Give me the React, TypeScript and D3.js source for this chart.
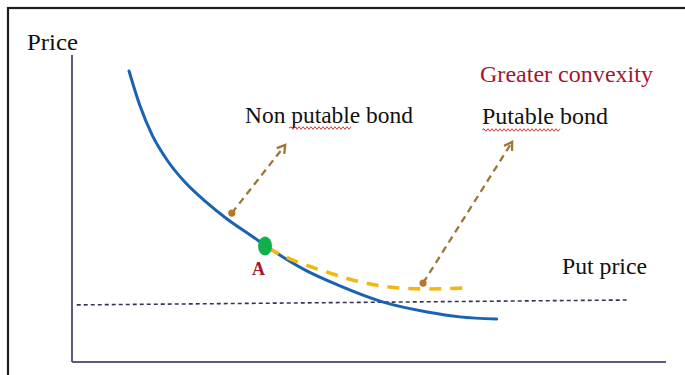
import React from "react";
import * as d3 from "d3";

// Non-putable bond price curve (yield-index, price-index)
const bondX = [9.6, 11.4, 13.5, 16.0, 19.0, 22.4, 26.1, 30.0, 34.2, 39.2, 45.1, 52.4, 59.8, 65.3, 71.5];
const bondY = [94.8, 83.7, 73.9, 65.8, 58.6, 52.4, 46.6, 41.4, 35.8, 30.0, 24.8, 19.5, 16.3, 14.7, 14.0];

// Putable bond price curve
const putableX = [33.0, 37.2, 42.9, 48.5, 55.2, 59.8, 66.2];
const putableY = [37.1, 33.2, 29.3, 26.1, 24.1, 23.8, 24.1];

// Put price level line
const putPriceX = [0.8, 93.9];
const putPriceY = [18.6, 20.2];

// Point A
const pointA = { x: 32.5, y: 37.8 };

// Annotation arrows: [fromX, fromY, toX, toY]
const arrowNames = ["Non putable bond", "Putable bond"];
const arrowFrom = [[26.9, 48.5], [59.1, 25.7]];
const arrowTo = [[35.9, 70.7], [74.1, 71.7]];

const SERIF = "'Liberation Serif', 'Times New Roman', serif";

function squiggle(x0: number, x1: number, y: number) {
  let d = `M${x0},${y}`;
  let up = true;
  for (let x = x0 + 2; x <= x1; x += 2) {
    d += ` L${x},${y + (up ? -1.3 : 1.3)}`;
    up = !up;
  }
  return d;
}

export default function App() {
  const xs = d3.scaleLinear().domain([0, 100]).range([72, 666]);
  const ys = d3.scaleLinear().domain([0, 100]).range([362, 55]);

  const line = d3
    .line<[number, number]>()
    .x((d) => xs(d[0]))
    .y((d) => ys(d[1]))
    .curve(d3.curveMonotoneX);

  const bondPts = bondX.map((x, i) => [x, bondY[i]] as [number, number]);
  const putPts = putableX.map((x, i) => [x, putableY[i]] as [number, number]);
  const putLine = d3
    .line<[number, number]>()
    .x((d) => xs(d[0]))
    .y((d) => ys(d[1]));
  const putPricePts = putPriceX.map((x, i) => [x, putPriceY[i]] as [number, number]);

  const [x0, x1] = xs.range();
  const [yb, yt] = ys.range();

  const arrowColor = "#9a7637";

  return (
    <svg
      width={685}
      height={375}
      style={{ position: "absolute", left: 0, top: 0, background: "#ffffff", display: "block" }}
    >
      {/* outer frame */}
      <rect x={8} y={8} width={700} height={420} fill="none" stroke="#1e1e1e" strokeWidth={2.2} />

      {/* axes */}
      <line x1={x0} y1={yb} x2={x0} y2={yt} stroke="#5b5a80" strokeWidth={2} />
      <line x1={x0} y1={yb} x2={x1} y2={yb} stroke="#5b5a80" strokeWidth={2} />

      {/* put price line */}
      <path d={putLine(putPricePts) || ""} fill="none" stroke="#34345a" strokeWidth={1.6} strokeDasharray="4 3" />

      {/* non-putable bond curve */}
      <path d={line(bondPts) || ""} fill="none" stroke="#1a63b3" strokeWidth={3} strokeLinecap="round" />

      {/* putable bond curve */}
      <path d={line(putPts) || ""} fill="none" stroke="#f4b712" strokeWidth={3.6} strokeDasharray="12 9" />

      {/* arrows */}
      {arrowNames.map((name, i) => {
        const fx = xs(arrowFrom[i][0]);
        const fy = ys(arrowFrom[i][1]);
        const tx = xs(arrowTo[i][0]);
        const ty = ys(arrowTo[i][1]);
        const ang = Math.atan2(ty - fy, tx - fx);
        const L = 9;
        const a1 = ang + Math.PI - 0.55;
        const a2 = ang + Math.PI + 0.55;
        const head = `M${tx + L * Math.cos(a1)},${ty + L * Math.sin(a1)} L${tx},${ty} L${tx + L * Math.cos(a2)},${ty + L * Math.sin(a2)}`;
        return (
          <g key={name}>
            <line x1={fx} y1={fy} x2={tx} y2={ty} stroke={arrowColor} strokeWidth={2.3} strokeDasharray="7 5" />
            <path d={head} fill="none" stroke={arrowColor} strokeWidth={2.3} />
            <circle cx={fx} cy={fy} r={3.6} fill="#b97726" />
          </g>
        );
      })}

      {/* point A */}
      <ellipse cx={xs(pointA.x)} cy={ys(pointA.y)} rx={7} ry={9.5} fill="#12b04a" />
      <text x={xs(pointA.x) - 13} y={ys(pointA.y) + 29} fontFamily={SERIF} fontWeight="bold" fontSize={18} fill="#a3182c" textLength={13} lengthAdjust="spacingAndGlyphs">
        A
      </text>

      {/* labels */}
      <text x={27} y={50} fontFamily={SERIF} fontSize={23} fill="#111" textLength={51} lengthAdjust="spacingAndGlyphs">
        Price
      </text>
      <text x={245} y={123} fontFamily={SERIF} fontSize={23} fill="#111" textLength={168} lengthAdjust="spacingAndGlyphs">
        Non putable bond
      </text>
      <path d={squiggle(289, 352, 128)} fill="none" stroke="#d03a3a" strokeWidth={1} />
      <text x={480} y={82} fontFamily={SERIF} fontSize={23} fill="#a3162b" textLength={173} lengthAdjust="spacingAndGlyphs">
        Greater convexity
      </text>
      <text x={482} y={124} fontFamily={SERIF} fontSize={23} fill="#111" textLength={126} lengthAdjust="spacingAndGlyphs">
        Putable bond
      </text>
      <path d={squiggle(482, 560, 130)} fill="none" stroke="#d03a3a" strokeWidth={1} />
      <text x={562} y={274} fontFamily={SERIF} fontSize={23} fill="#111" textLength={85} lengthAdjust="spacingAndGlyphs">
        Put price
      </text>
    </svg>
  );
}
